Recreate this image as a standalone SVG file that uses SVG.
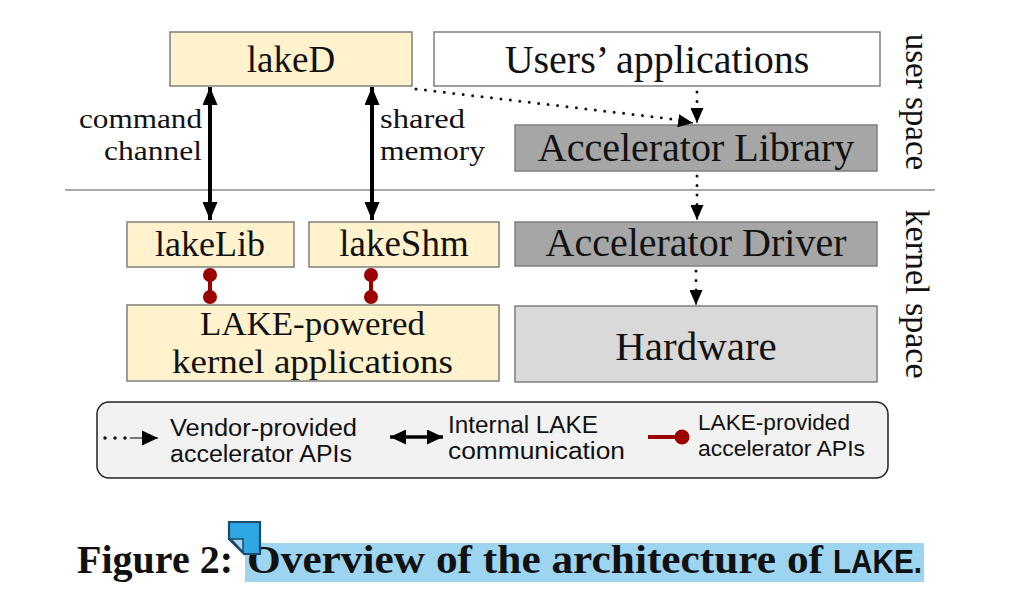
<svg xmlns="http://www.w3.org/2000/svg" width="1036" height="608" viewBox="0 0 1036 608">
<style>
.serif{font-family:"Liberation Serif","DejaVu Serif",serif;fill:#111}
.sans{font-family:"Liberation Sans","Open Sans",sans-serif;fill:#111}
.tan{fill:#fff2cc;stroke:#7f7f7f;stroke-width:1.5}
.dark{fill:#a6a6a6;stroke:#7f7f7f;stroke-width:1.5}
.light{fill:#d9d9d9;stroke:#7f7f7f;stroke-width:1.5}
.white{fill:#fff;stroke:#7f7f7f;stroke-width:1.5}
.dot{stroke:#111;stroke-width:3;stroke-dasharray:0 9.5;stroke-linecap:round;fill:none}
.solid{stroke:#000;stroke-width:4;fill:none}
.red{stroke:#9b0000;stroke-width:4;fill:none}
</style>
<defs>
<marker id="ah" viewBox="0 0 10 10" refX="10" refY="5" markerWidth="16" markerHeight="15" markerUnits="userSpaceOnUse" orient="auto-start-reverse" preserveAspectRatio="none"><path d="M0,0 L10,5 L0,10 Z" fill="#000"/></marker>
<marker id="big" viewBox="0 0 10 10" refX="10" refY="5" markerWidth="18" markerHeight="15" markerUnits="userSpaceOnUse" orient="auto-start-reverse" preserveAspectRatio="none"><path d="M0,0 L10,5 L0,10 Z" fill="#000"/></marker>
<marker id="dh" viewBox="0 0 10 10" refX="10" refY="5" markerWidth="15" markerHeight="13" markerUnits="userSpaceOnUse" orient="auto" preserveAspectRatio="none"><path d="M0,0 L10,5 L0,10 Z" fill="#000"/></marker>
</defs>
<rect width="1036" height="608" fill="#fff"/>
<line x1="65" y1="190" x2="935" y2="190" stroke="#8c8c8c" stroke-width="1.5"/>
<text class="serif" font-size="33" transform="translate(906,102) rotate(90)" text-anchor="middle">user space</text>
<text class="serif" font-size="34" transform="translate(906,294) rotate(90)" text-anchor="middle">kernel space</text>

<g id="lakeD"><rect class="tan" x="170" y="32" width="242" height="54"/><text class="serif" font-size="37" x="291" y="72" text-anchor="middle">lakeD</text></g>
<g id="users"><rect class="white" x="434" y="32" width="446" height="54"/><text class="serif" font-size="40" x="657" y="73" text-anchor="middle">Users’ applications</text></g>
<g id="library"><rect class="dark" x="515" y="125" width="362" height="46"/><text class="serif" font-size="40" x="696" y="161" text-anchor="middle">Accelerator Library</text></g>
<g id="lakeLib"><rect class="tan" x="127" y="222" width="167" height="45"/><text class="serif" font-size="36" x="210" y="256" text-anchor="middle">lakeLib</text></g>
<g id="lakeShm"><rect class="tan" x="309" y="222" width="190" height="45"/><text class="serif" font-size="37" x="404" y="256" text-anchor="middle">lakeShm</text></g>
<g id="driver"><rect class="dark" x="515" y="222" width="362" height="44"/><text class="serif" font-size="40" x="696" y="256" text-anchor="middle">Accelerator Driver</text></g>
<g id="kernelapps"><rect class="tan" x="127" y="305" width="372" height="76"/><text class="serif" font-size="33" x="200" y="335" textLength="225" lengthAdjust="spacingAndGlyphs">LAKE-powered</text><text class="serif" font-size="33" x="172" y="373" textLength="281" lengthAdjust="spacingAndGlyphs">kernel applications</text></g>
<g id="hardware"><rect class="light" x="515" y="306" width="362" height="76"/><text class="serif" font-size="41" x="696" y="360" text-anchor="middle">Hardware</text></g>

<g id="connectors">
<line class="solid" x1="210" y1="87" x2="210" y2="220" marker-start="url(#big)" marker-end="url(#big)"/>
<line class="solid" x1="372" y1="87" x2="372" y2="220" marker-start="url(#big)" marker-end="url(#big)"/>
<text class="serif" font-size="27.5" x="79" y="128" textLength="123" lengthAdjust="spacingAndGlyphs">command</text>
<text class="serif" font-size="27.5" x="104" y="160" textLength="98" lengthAdjust="spacingAndGlyphs">channel</text>
<text class="serif" font-size="27.5" x="380" y="128" textLength="85" lengthAdjust="spacingAndGlyphs">shared</text>
<text class="serif" font-size="27.5" x="380" y="160" textLength="105" lengthAdjust="spacingAndGlyphs">memory</text>
<path class="dot" d="M416,89 L680,120"/><path d="M680,121 L693,123" stroke="#000" stroke-width="1" marker-end="url(#dh)"/>
<path class="dot" d="M697,92 L697,110"/><line x1="697" y1="110" x2="697" y2="123" stroke="#000" stroke-width="1" marker-end="url(#dh)"/>
<path class="dot" d="M697,176 L697,207"/><line x1="697" y1="207" x2="697" y2="220" stroke="#000" stroke-width="1" marker-end="url(#dh)"/>
<path class="dot" d="M696,271 L696,292"/><line x1="696" y1="292" x2="696" y2="305" stroke="#000" stroke-width="1" marker-end="url(#dh)"/>
<line class="red" x1="210" y1="275" x2="210" y2="297"/><circle cx="210" cy="275" r="7" fill="#9b0000"/><circle cx="210" cy="297" r="7" fill="#9b0000"/>
<line class="red" x1="371" y1="275" x2="371" y2="297"/><circle cx="371" cy="275" r="7" fill="#9b0000"/><circle cx="371" cy="297" r="7" fill="#9b0000"/>
</g>

<g id="legend">
<rect x="97" y="402" width="791" height="76" rx="12" fill="#f2f2f2" stroke="#222" stroke-width="1.5"/>
<path class="dot" d="M105,438 L126,438" style="stroke-width:3.5;stroke-dasharray:0 10"/><line x1="130" y1="438" x2="158" y2="438" stroke="#000" stroke-width="1" marker-end="url(#ah)"/>
<text class="sans" font-size="23" x="170" y="436" textLength="187" lengthAdjust="spacingAndGlyphs">Vendor-provided</text>
<text class="sans" font-size="23" x="170" y="462" textLength="182" lengthAdjust="spacingAndGlyphs">accelerator APIs</text>
<line x1="390" y1="437" x2="443" y2="437" stroke="#000" stroke-width="3.5" marker-start="url(#ah)" marker-end="url(#ah)"/>
<text class="sans" font-size="23" x="448" y="433" textLength="150" lengthAdjust="spacingAndGlyphs">Internal LAKE</text>
<text class="sans" font-size="23" x="448" y="459" textLength="177" lengthAdjust="spacingAndGlyphs">communication</text>
<line class="red" x1="648" y1="437" x2="680" y2="437"/><circle cx="682" cy="437" r="7.5" fill="#9b0000"/>
<text class="sans" font-size="22" x="698" y="430" textLength="152" lengthAdjust="spacingAndGlyphs">LAKE-provided</text>
<text class="sans" font-size="22" x="698" y="456" textLength="167" lengthAdjust="spacingAndGlyphs">accelerator APIs</text>
</g>

<g id="caption">
<rect x="245" y="543" width="679" height="39" fill="#9dd5f1"/>
<text font-family="Liberation Serif,serif" font-weight="bold" font-size="39" x="77" y="573" fill="#111" textLength="156" lengthAdjust="spacingAndGlyphs">Figure 2:</text>
<text font-family="Liberation Serif,serif" font-weight="bold" font-size="39" x="247" y="573" fill="#111" textLength="576" lengthAdjust="spacingAndGlyphs">Overview of the architecture of</text>
<text font-family="Liberation Sans,sans-serif" font-weight="bold" font-size="33" x="833" y="573" fill="#111" textLength="89" lengthAdjust="spacingAndGlyphs">LAKE.</text>
<path d="M229,522 L260,522 L260,554 L244,554 L229,539 Z" fill="#2ea7e3" stroke="#1b4a6a" stroke-width="2.2"/>
<path d="M231,539 L243,539 L243,552 Z" fill="#a8d8f0" stroke="#1b4a6a" stroke-width="1.5"/>
</g>
</svg>
